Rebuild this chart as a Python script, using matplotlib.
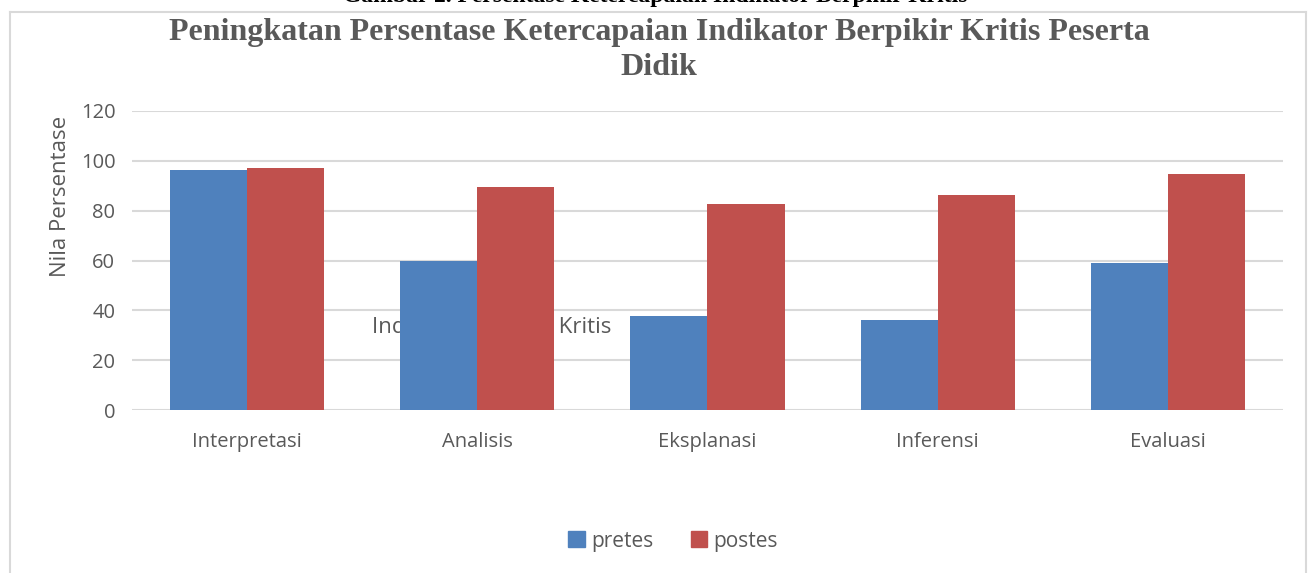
import matplotlib as mpl
import matplotlib.pyplot as plt
import numpy as np
from matplotlib.patches import Patch

# data
categories = ["Interpretasi", "Analisis", "Eksplanasi", "Inferensi", "Evaluasi"]
pretes = [96.4, 59.8, 37.8, 36.1, 59.0]
postes = [97.2, 89.6, 82.7, 86.3, 94.8]
y_ticks = [0, 20, 40, 60, 80, 100, 120]

BLUE = "#4F81BD"
RED = "#C0504D"
GRID = "#D9D9D9"
TXT = "#595959"

mpl.rcParams["font.family"] = ["Open Sans", "DejaVu Sans"]

W, H = 1308, 573
fig = plt.figure(figsize=(W / 100, H / 100), dpi=100)
fig.patch.set_facecolor("white")

# chart frame (light grey, cut at bottom)
frame = dict(color=GRID, lw=1.5, transform=fig.transFigure)
fig.add_artist(plt.Line2D([10 / W, 10 / W], [0, 1 - 12 / H], **frame))
fig.add_artist(plt.Line2D([10 / W, 1306 / W], [1 - 12 / H, 1 - 12 / H], **frame))
fig.add_artist(plt.Line2D([1306 / W, 1306 / W], [0, 1 - 12 / H], **frame))

ax = fig.add_axes([132 / W, 1 - 410 / H, 1151 / W, 299 / H])
x = np.arange(len(categories))
bw = 0.335
ax.bar(x - bw / 2, pretes, bw, color=BLUE, zorder=3)
ax.bar(x + bw / 2, postes, bw, color=RED, zorder=3)

ax.set_xlim(-0.5, len(categories) - 0.5)
ax.set_ylim(0, 120)
ax.set_yticks(y_ticks)
ax.set_xticks(x)
ax.set_xticklabels(categories)
ax.yaxis.grid(True, color=GRID, lw=1.5, zorder=0)
ax.set_axisbelow(True)
for s in ax.spines.values():
    s.set_visible(False)
ax.tick_params(axis="both", length=0, colors=TXT, labelsize=14.5)
ax.tick_params(axis="x", pad=16)
ax.tick_params(axis="y", pad=12)

# axis title sits behind the bars, as in the source
ax.text(492, H - 327, "Indikator Berpikir Kritis", transform=None, fontsize=16,
        color=TXT, ha="center", va="center", zorder=1)
fig.text(60 / W, 1 - 196 / H, "Nila Persentase", rotation=90, fontsize=16,
         color=TXT, ha="center", va="center")

fig.text(659 / W, 1 - 50 / H,
         "Peningkatan Persentase Ketercapaian Indikator Berpikir Kritis Peserta\nDidik",
         family="Liberation Serif", fontweight="bold", fontsize=23, color=TXT,
         ha="center", va="center", linespacing=1.3)

# caption of the page, cut off at the top edge
fig.text(655 / W, 1 - 2 / H,
         "Gambar 2. Persentase Ketercapaian Indikator Berpikir Kritis",
         family="Liberation Serif", fontweight="bold", fontsize=17, color="black",
         ha="center", va="baseline")

handles = [Patch(color=BLUE, label="pretes"), Patch(color=RED, label="postes")]
fig.legend(handles=handles, loc="center", bbox_to_anchor=(673 / W, 1 - 541 / H),
           ncol=2, frameon=False, fontsize=15, labelcolor=TXT,
           handlelength=0.8, handleheight=0.8, handletextpad=0.3, columnspacing=1.8)

fig.savefig("out.png", dpi=100)
